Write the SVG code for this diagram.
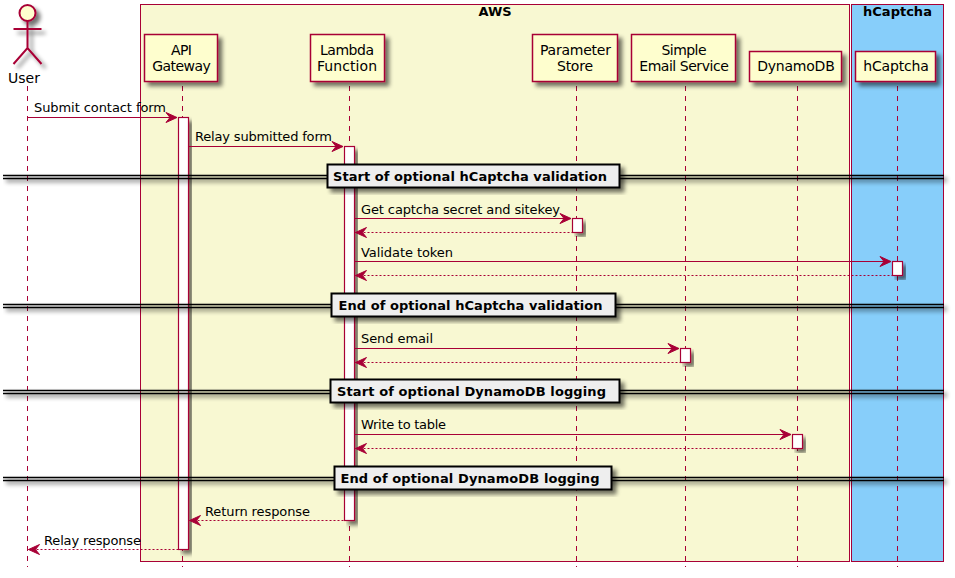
<svg xmlns="http://www.w3.org/2000/svg" width="955" height="578" viewBox="0 0 955 578">
<defs>
<filter id="sh" x="-20%" y="-20%" width="150%" height="150%"><feGaussianBlur in="SourceAlpha" stdDeviation="2"/><feOffset dx="4" dy="4"/><feComponentTransfer><feFuncA type="linear" slope="0.55"/></feComponentTransfer><feMerge><feMergeNode/><feMergeNode in="SourceGraphic"/></feMerge></filter>
<filter id="shl" filterUnits="userSpaceOnUse" x="0" y="0" width="955" height="578"><feGaussianBlur in="SourceAlpha" stdDeviation="2"/><feOffset dx="3" dy="3"/><feComponentTransfer><feFuncA type="linear" slope="0.6"/></feComponentTransfer><feMerge><feMergeNode/><feMergeNode in="SourceGraphic"/></feMerge></filter>
<marker id="a" markerUnits="userSpaceOnUse" markerWidth="14" markerHeight="14" refX="12" refY="6" orient="auto"><path d="M1 1L12 6L1 11L5 6Z" fill="#A80036" stroke="#A80036"/></marker>
<marker id="b" markerUnits="userSpaceOnUse" markerWidth="14" markerHeight="14" refX="1" refY="6" orient="auto"><path d="M12 1L1 6L12 11L8 6Z" fill="#A80036" stroke="#A80036"/></marker>
</defs>
<style>
text{font-family:"DejaVu Sans",sans-serif;font-size:13px;fill:#000}
.m{text-anchor:middle}
.n{font-size:14px}
.t{font-weight:bold}
.p{fill:#FEFECE;stroke:#A80036;stroke-width:1.5;filter:url(#sh)}
.act{fill:#fff;stroke:#A80036;stroke-width:1.2;filter:url(#sh)}
.ll{stroke:#A80036;stroke-width:1;stroke-dasharray:5 5;fill:none}
.s{stroke:#A80036;stroke-width:1;fill:none}
.d{stroke:#A80036;stroke-width:1;stroke-dasharray:2 2;fill:none}
.dl{stroke:#000;stroke-width:1.4;fill:none}
.db{fill:#EEEEEE;stroke:#000;stroke-width:2;filter:url(#sh)}
</style>
<g id="box-aws"><rect x="140.5" y="4.5" width="709" height="557" fill="#F8F8D2" stroke="#A80036" stroke-width="1"/><text class="m t" x="495" y="16">AWS</text></g>
<g id="box-hcaptcha"><rect x="851.5" y="4.5" width="92" height="557" fill="#87CEFA" stroke="#A80036" stroke-width="1"/><text class="m t" x="897.5" y="16">hCaptcha</text></g>
<g id="lifelines">
<path class="ll" d="M27.5 86V567"/><path class="ll" d="M182.5 86V567"/><path class="ll" d="M349.5 86V567"/><path class="ll" d="M576.5 86V567"/><path class="ll" d="M685.5 86V567"/><path class="ll" d="M797.5 86V567"/><path class="ll" d="M897.5 86V567"/>
</g>
<g id="user"><g filter="url(#sh)"><circle cx="27.5" cy="13" r="8" fill="#FEFECE" stroke="#A80036" stroke-width="2"/><path d="M27.5 21V48M13.5 29H41.5M13.5 64L27.5 48L41.5 64" fill="none" stroke="#A80036" stroke-width="2"/></g><text class="m n" x="24" y="83" textLength="32">User</text></g>
<g id="api-gateway"><rect class="p" x="144.5" y="34.5" width="73" height="47"/><text class="m n" x="181.5" y="55" textLength="21">API</text><text class="m n" x="181.5" y="71" textLength="58.5">Gateway</text></g>
<g id="lambda-function"><rect class="p" x="310.5" y="34.5" width="74" height="47"/><text class="m n" x="347" y="55" textLength="54">Lambda</text><text class="m n" x="347" y="71" textLength="60">Function</text></g>
<g id="parameter-store"><rect class="p" x="532.5" y="34.5" width="85" height="47"/><text class="m n" x="575.5" y="55" textLength="71">Parameter</text><text class="m n" x="575" y="71" textLength="36">Store</text></g>
<g id="simple-email-service"><rect class="p" x="631.5" y="34.5" width="104" height="47"/><text class="m n" x="684" y="55" textLength="45">Simple</text><text class="m n" x="684" y="71" textLength="89.5">Email Service</text></g>
<g id="dynamodb"><rect class="p" x="749.5" y="51.5" width="92" height="30"/><text class="m n" x="796" y="71" textLength="77.5">DynamoDB</text></g>
<g id="hcaptcha"><rect class="p" x="855.5" y="51.5" width="80" height="30"/><text class="m n" x="896" y="71" textLength="65.5">hCaptcha</text></g>
<g id="activations">
<rect class="act" x="178.5" y="117.5" width="10" height="432"/>
<rect class="act" x="344.5" y="146.5" width="10" height="374"/>
<rect class="act" x="572.5" y="218.5" width="10" height="14"/>
<rect class="act" x="892.5" y="261.5" width="10" height="14"/>
<rect class="act" x="680.5" y="348.5" width="10" height="14"/>
<rect class="act" x="792.5" y="434.5" width="10" height="14"/>
</g>
<g id="connectors">
<path class="s" marker-end="url(#a)" d="M27.5 117.5H177"/>
<path class="s" marker-end="url(#a)" d="M188.5 146.5H343"/>
<path class="s" marker-end="url(#a)" d="M354.5 218.5H571"/>
<path class="d" marker-start="url(#b)" d="M355.5 232.5H572"/>
<path class="s" marker-end="url(#a)" d="M354.5 261.5H891"/>
<path class="d" marker-start="url(#b)" d="M355.5 275.5H892"/>
<path class="s" marker-end="url(#a)" d="M354.5 348.5H679"/>
<path class="d" marker-start="url(#b)" d="M355.5 362.5H680"/>
<path class="s" marker-end="url(#a)" d="M354.5 434.5H791"/>
<path class="d" marker-start="url(#b)" d="M355.5 448.5H792"/>
<path class="d" marker-start="url(#b)" d="M189.5 520.5H344"/>
<path class="d" marker-start="url(#b)" d="M28.5 549.5H178"/>
</g>
<g id="labels">
<text x="34" y="112" textLength="132">Submit contact form</text>
<text x="195" y="141" textLength="137">Relay submitted form</text>
<text x="361" y="214" textLength="199">Get captcha secret and sitekey</text>
<text x="361" y="257" textLength="92">Validate token</text>
<text x="361" y="343" textLength="72">Send email</text>
<text x="361" y="429" textLength="85">Write to table</text>
<text x="205" y="516" textLength="105">Return response</text>
<text x="44" y="545" textLength="97">Relay response</text>
</g>
<g id="dividers">
<g filter="url(#shl)"><path class="dl" d="M3 175.5H944M3 178.5H944"/></g><rect class="db" x="327.5" y="164.5" width="292" height="23"/><text class="m t" x="470" y="181" textLength="274">Start of optional hCaptcha validation</text>
<g filter="url(#shl)"><path class="dl" d="M3 304.5H944M3 307.5H944"/></g><rect class="db" x="331.5" y="293.5" width="284" height="23"/><text class="m t" x="470.5" y="310" textLength="264">End of optional hCaptcha validation</text>
<g filter="url(#shl)"><path class="dl" d="M3 390.5H944M3 393.5H944"/></g><rect class="db" x="330.5" y="379.5" width="289" height="23"/><text class="m t" x="471.5" y="396" textLength="269">Start of optional DynamoDB logging</text>
<g filter="url(#shl)"><path class="dl" d="M3 477.5H944M3 480.5H944"/></g><rect class="db" x="334.5" y="466.5" width="277" height="23"/><text class="m t" x="470" y="483" textLength="259">End of optional DynamoDB logging</text>
</g>
</svg>
